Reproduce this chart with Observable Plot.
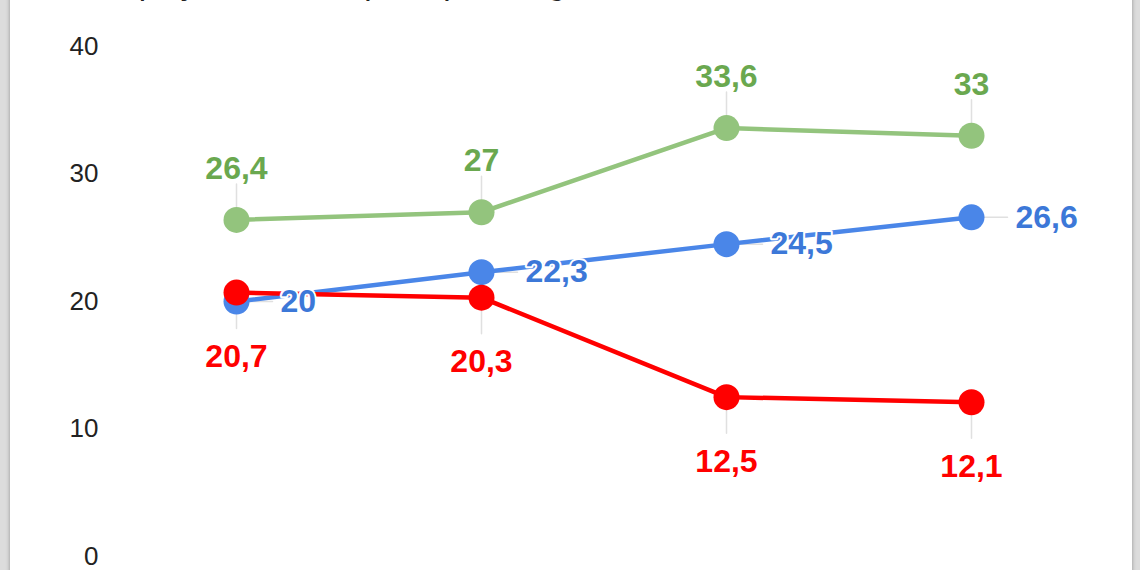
<!DOCTYPE html>
<html><head><meta charset="utf-8">
<script src="https://cdn.jsdelivr.net/npm/d3@7"></script>
<script src="https://cdn.jsdelivr.net/npm/@observablehq/plot@0.6"></script>
<style>
html,body{margin:0;padding:0;width:1140px;height:570px;overflow:hidden;background:#dcdcdc;font-family:Arial,"Liberation Sans",sans-serif}
#card{position:absolute;left:10px;top:-20px;width:1122px;height:620px;background:#fff;box-shadow:0 0 4px rgba(0,0,0,.35)}
#title{position:absolute;left:37px;top:-14px;font-size:33px;line-height:33px;color:#222;white-space:nowrap}
#chart{position:absolute;left:0;top:20px}
#chart svg{font-family:Arial,"Liberation Sans",sans-serif}
</style></head>
<body>
<div id="card"><div id="title">Participação dos três principais segmentos no total</div><div id="chart"></div></div>
<script>
const categories = ["Período 1", "Período 2", "Período 3", "Período 4"];
const seriesNames = ["Segmento A", "Segmento B", "Segmento C"];
const greenValues = [26.4, 27, 33.6, 33];
const blueValues = [20, 22.3, 24.5, 26.6];
const redValues = [20.7, 20.3, 12.5, 12.1];
const yTicks = [0, 10, 20, 30, 40];

const rows = (vals, s) => vals.map((v, i) => ({cat: categories[i], value: v, series: s}));
const G = rows(greenValues, seriesNames[0]);
const B = rows(blueValues, seriesNames[1]);
const R = rows(redValues, seriesNames[2]);
const fmt = d => String(d.value).replace(".", ",");

const cG = "#93c47d", cGl = "#6aa84f", cB = "#4a86e8", cBl = "#3c78d8", cR = "#ff0000";
const lead = {stroke: "#e0e0e0", strokeWidth: 1.5, r: 0, anchor: "start", length: 36};
const lbl = {x: "cat", y: "value", text: fmt, stroke: "white", strokeWidth: 4, fontSize: 32, fontWeight: "bold"};

const chart = Plot.plot({
  width: 1122, height: 570,
  marginTop: 46, marginBottom: 14, marginLeft: 91, marginRight: 60,
  x: {type: "point", domain: categories, range: [226, 961], padding: 0, axis: null},
  y: {domain: [0, 40], axis: null},
  marks: [
    Plot.axisY(yTicks, {tickSize: 0, tickPadding: 3, fontSize: 26, color: "#222", label: null}),
    Plot.vector(G, {x: "cat", y: "value", rotate: 0, ...lead}),
    Plot.vector(B, {x: "cat", y: "value", rotate: 90, ...lead}),
    Plot.vector(R, {x: "cat", y: "value", rotate: 180, ...lead}),
    Plot.line(G, {x: "cat", y: "value", stroke: cG, strokeWidth: 4.5}),
    Plot.line(B, {x: "cat", y: "value", stroke: cB, strokeWidth: 4.5}),
    Plot.line(R, {x: "cat", y: "value", stroke: cR, strokeWidth: 4.5}),
    Plot.dot(G, {x: "cat", y: "value", r: 13, fill: cG}),
    Plot.dot(B, {x: "cat", y: "value", r: 13, fill: cB}),
    Plot.dot(R, {x: "cat", y: "value", r: 13, fill: cR}),
    Plot.text(G, {...lbl, dy: -41, lineAnchor: "bottom", fill: cGl}),
    Plot.text(B, {...lbl, dx: 44, textAnchor: "start", lineAnchor: "middle", fill: cBl}),
    Plot.text(R, {...lbl, dy: 52, lineAnchor: "top", fill: cR})
  ]
});
document.getElementById("chart").appendChild(chart);
</script>
</body></html>
